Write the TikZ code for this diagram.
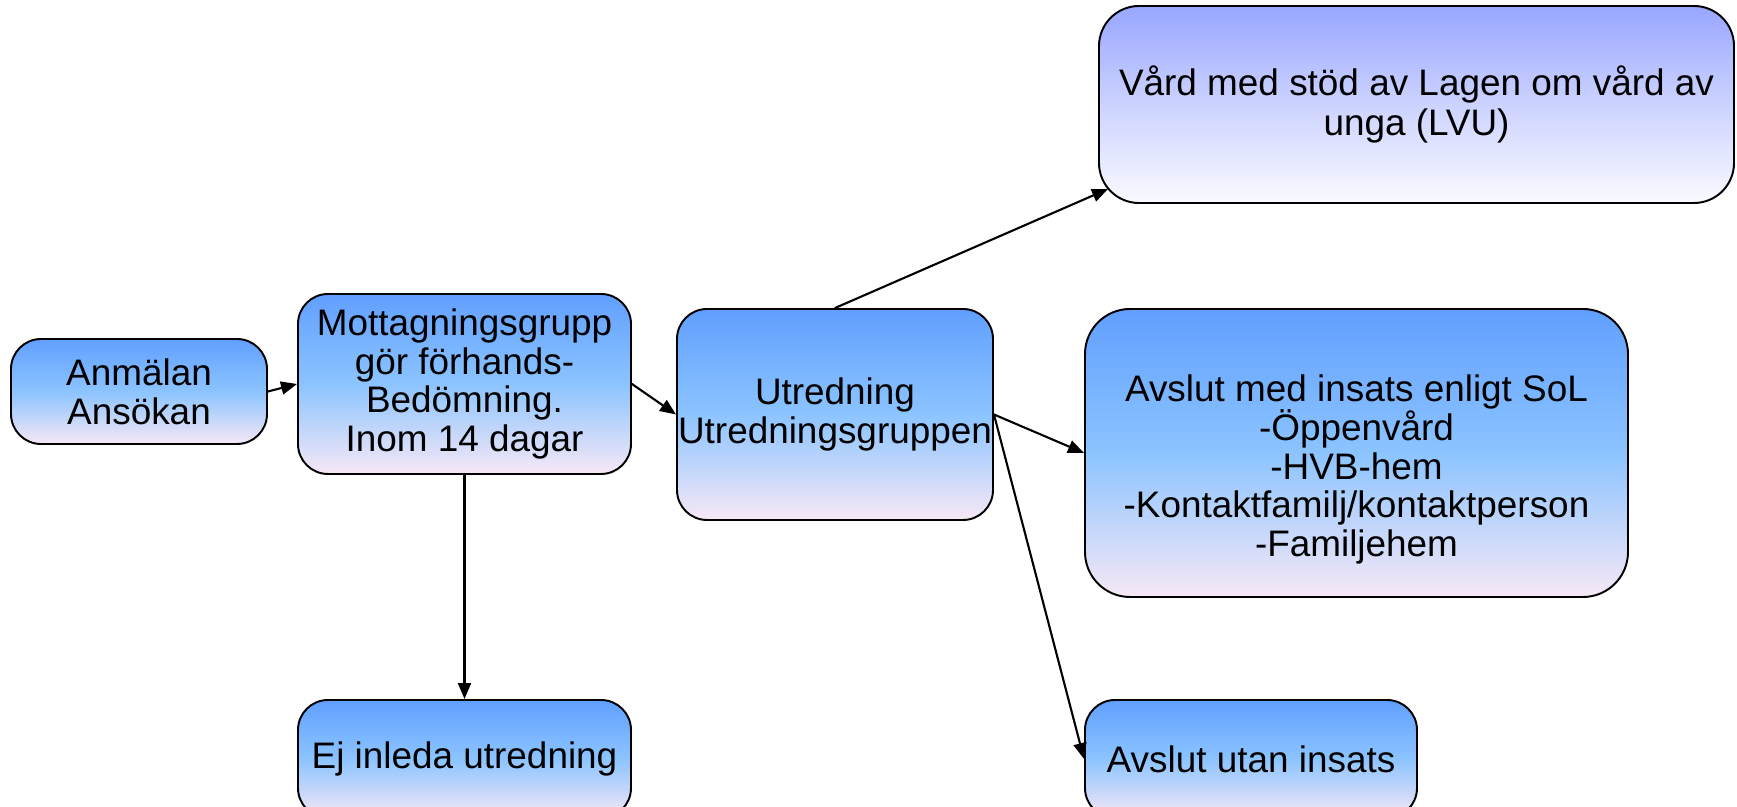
\documentclass[tikz,border=0pt]{standalone}
\usepackage{fontspec}
\setmainfont{Liberation Sans}
\usetikzlibrary{positioning,arrows.meta}
\definecolor{boxtop}{RGB}{97,159,255}
\definecolor{boxmid}{RGB}{140,196,255}
\definecolor{boxbot}{RGB}{247,232,246}
\definecolor{lvutop}{RGB}{152,166,255}
\definecolor{lvumid}{RGB}{204,211,255}
\definecolor{lvubot}{RGB}{250,250,255}

\begin{document}
\begin{tikzpicture}[line cap=round,line join=round,
  box/.style={draw=black,line width=1.1pt,rounded corners=0.6cm,align=center,inner sep=0pt,
    top color=boxtop,bottom color=boxbot,middle color=boxmid,
    font=\fontsize{21}{22}\selectfont},
  arr/.style={-{Triangle[length=0.32cm,width=0.26cm]},line width=1.2pt}]
  \useasboundingbox (0,0) rectangle (34.74,16.14);

  %--- Intake --------------------------------------------------------------
  \node[box,minimum width=5.12cm,minimum height=2.1cm] (anm) at (2.78,8.31)
       {Anmälan\\Ansökan};
  \node[box,minimum width=6.66cm,minimum height=3.6cm] (mott) at (9.29,8.46)
       {Mottagningsgrupp\\gör förhands-\\Bedömning.\\Inom 14 dagar};
  \node[box,minimum width=6.66cm,minimum height=2.36cm] (ej) at (9.29,0.96)
       {Ej inleda utredning};

  %--- Investigation -------------------------------------------------------
  \node[box,minimum width=6.32cm,minimum height=4.22cm] (utr) at (16.70,7.85)
       {Utredning\\Utredningsgruppen};

  %--- Outcomes ------------------------------------------------------------
  \node[box,rounded corners=0.8cm,top color=lvutop,bottom color=lvubot,middle color=lvumid,
        minimum width=12.7cm,minimum height=3.94cm] (lvu) at (28.33,14.05)
       {Vård med stöd av Lagen om vård av\\[1pt]unga (LVU)};
  \node[box,rounded corners=0.9cm,minimum width=10.86cm,minimum height=5.76cm] (med) at (27.13,7.08)
       {\rule{0pt}{1.2cm}Avslut med insats enligt SoL\\-Öppenvård\\-HVB-hem\\-Kontaktfamilj/kontaktperson\\-Familjehem};
  \node[box,minimum width=6.64cm,minimum height=2.36cm] (utan) at (25.02,0.96)
       {Avslut utan insats};

  % Connectors
  \draw[arr] (anm.east) -- (mott.west);
  \draw[arr] (mott.east) -- (utr.west);
  \draw[arr] (mott.south) -- (ej.north);
  \draw[arr] (utr.north) -- ([xshift=0.2cm,yshift=0.3cm]lvu.south west);
  \draw[arr] (utr.east) -- (med.west);
  \draw[arr] (utr.east) -- (utan.west);
\end{tikzpicture}
\end{document}
